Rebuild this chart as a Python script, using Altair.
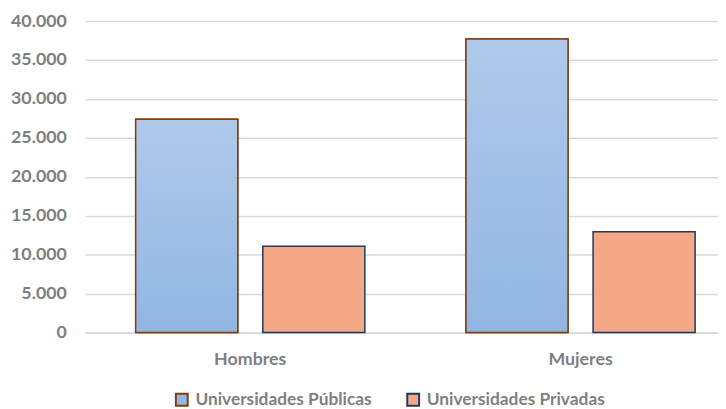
import altair as alt
import pandas as pd

categories = ["Hombres", "Mujeres"]
series = ["Universidades Públicas", "Universidades Privadas"]
publicas = [27400, 37700]
privadas = [11100, 12950]
y_ticks = [0, 5000, 10000, 15000, 20000, 25000, 30000, 35000, 40000]

rows = []
for i, c in enumerate(categories):
    rows.append({"sexo": c, "tipo": series[0], "valor": publicas[i]})
    rows.append({"sexo": c, "tipo": series[1], "valor": privadas[i]})
df = pd.DataFrame(rows)

FONT = "Lato"
GRAY = "#7f7f7f"
GRID = "#d9d9d9"
FS = 18

x = alt.X(
    "sexo:N",
    sort=categories,
    scale=alt.Scale(range=[0, 668], paddingInner=0, paddingOuter=0),
    axis=alt.Axis(
        title=None, labelAngle=0, ticks=False, tickSize=0, labelPadding=18,
        domainColor=GRID, domainWidth=1.5, grid=False,
        labelFont=FONT, labelFontSize=FS, labelFontWeight="bold", labelColor=GRAY,
    ),
)
xoff = alt.XOffset("tipo:N", sort=series,
                   scale=alt.Scale(paddingInner=0.197, paddingOuter=0.3976))
y = alt.Y(
    "valor:Q",
    scale=alt.Scale(domain=[0, 40000]),
    axis=alt.Axis(
        title=None, values=y_ticks, domain=False, ticks=False, tickSize=0,
        labelPadding=19, gridColor=GRID, gridWidth=1.5,
        labelExpr="replace(format(datum.value, ','), ',', '.')",
        labelFont=FONT, labelFontSize=FS, labelFontWeight="bold", labelColor=GRAY,
    ),
)

legend = alt.Legend(
    title=None, orient="none", legendX=89, legendY=374, direction="horizontal",
    symbolType="square", symbolSize=144, symbolStrokeWidth=2, symbolOpacity=1,
    labelFont=FONT, labelFontSize=17.5, labelFontWeight="bold", labelColor=GRAY,
    labelOffset=5, columnPadding=31, labelLimit=400,
)

base = alt.Chart(df).mark_bar(strokeWidth=1.5, opacity=1).encode(
    x=x, xOffset=xoff, y=y,
    fill=alt.Fill("tipo:N", sort=series,
                  scale=alt.Scale(domain=series, range=["#93b7e3", "#f5a886"]),
                  legend=legend),
    stroke=alt.Stroke("tipo:N", sort=series,
                      scale=alt.Scale(domain=series, range=["#843c0c", "#1f3864"]),
                      legend=legend),
)

grad = alt.Chart(df).transform_filter(
    alt.datum.tipo == series[0]
).mark_bar(
    stroke="#843c0c", strokeWidth=1.5,
    fill=alt.Gradient(
        gradient="linear", x1=0, y1=0, x2=0, y2=1,
        stops=[alt.GradientStop(color="#afc9ea", offset=0),
               alt.GradientStop(color="#92b6e2", offset=1)],
    ),
).encode(x=x, xOffset=xoff, y=y)

chart = alt.layer(base, grad).properties(
    width=640, height=315,
    padding={"left": 78, "top": 11, "right": 0, "bottom": 75},
    autosize=alt.AutoSizeParams(type="none"),
).configure_view(stroke=None)

chart.save("out.html", embed_options={"renderer": "svg", "actions": False})
